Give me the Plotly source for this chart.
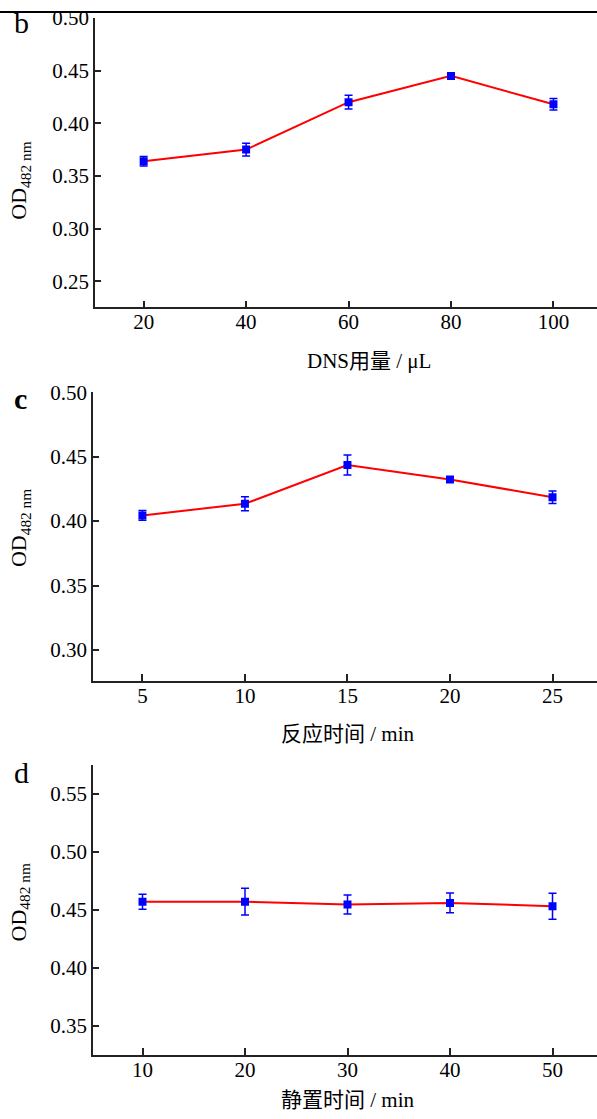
import plotly.graph_objects as go

W, H = 597, 1119

# Panel b: DNS amount
b_x = [20, 40, 60, 80, 100]
b_y = [0.364, 0.375, 0.420, 0.445, 0.418]
b_err = [0.0045, 0.0060, 0.0065, 0.0020, 0.0055]

# Panel c: reaction time
c_x = [5, 10, 15, 20, 25]
c_y = [0.4044, 0.4135, 0.4436, 0.4324, 0.4185]
c_err = [0.0038, 0.0055, 0.0078, 0.0015, 0.0048]

# Panel d: standing time
d_x = [10, 20, 30, 40, 50]
d_y = [0.4571, 0.4571, 0.4546, 0.4560, 0.4532]
d_err = [0.0065, 0.0115, 0.0082, 0.0085, 0.0112]

b_ticks_y = [0.25, 0.30, 0.35, 0.40, 0.45, 0.50]
c_ticks_y = [0.30, 0.35, 0.40, 0.45, 0.50]
d_ticks_y = [0.35, 0.40, 0.45, 0.50, 0.55]

xtitles = ["DNS用量 / μL", "反应时间 / min", "静置时间 / min"]
labels = ["b", "<b>c</b>", "d"]

FONT = "Liberation Serif, Times New Roman, Noto Sans CJK SC, serif"

# empirical vertical correction of the rendering
OFF, SC = 10.0, 0.991

def px(x):
    return x / W

def py(y):
    yy = (y - OFF) / SC
    return min(1.0, max(0.0, 1 - yy / H))

panels = [
    dict(x=b_x, y=b_y, e=b_err, xr=[10.5, 108.5], yr=[0.225, 0.50], yt=b_ticks_y,
         left=95, top=16, bottom=306, xt_y=360, yl_y=179, lab=(21, 21), xt_x=369),
    dict(x=c_x, y=c_y, e=c_err, xr=[2.59, 27.17], yr=[0.276, 0.50], yt=c_ticks_y,
         left=93, top=391, bottom=680, xt_y=733, yl_y=527, lab=(20, 397), xt_x=348),
    dict(x=d_x, y=d_y, e=d_err, xr=[5.17, 54.34], yr=[0.325, 0.575], yt=d_ticks_y,
         left=93, top=764, bottom=1055, xt_y=1100, yl_y=902, lab=(21, 772), xt_x=348),
]

fig = go.Figure()
annotations = []
for i, p in enumerate(panels):
    n = "" if i == 0 else str(i + 1)
    fig.add_trace(go.Scatter(
        x=p["x"], y=p["y"], mode="lines+markers",
        line=dict(color="red", width=2),
        marker=dict(symbol="square", size=8, color="blue"),
        error_y=dict(type="data", array=p["e"], color="blue", thickness=1.5, width=4),
        xaxis="x" + n, yaxis="y" + n, showlegend=False,
    ))
    axcommon = dict(showline=True, linecolor="#222", linewidth=1.5, ticks="inside",
                    tickcolor="#222", tickwidth=1.5, showgrid=False, zeroline=False,
                    tickfont=dict(family=FONT, size=21, color="black"))
    fig.layout["xaxis" + n] = dict(domain=[px(p["left"]), 1], range=p["xr"],
                                   anchor="y" + n, tickvals=p["x"], ticklen=7,
                                   ticklabelstandoff=-5, **axcommon)
    fig.layout["yaxis" + n] = dict(domain=[py(p["bottom"]), py(p["top"])], range=p["yr"],
                                   anchor="x" + n, tickvals=p["yt"], tickformat=".2f",
                                   ticklen=6, **axcommon)
    annotations.append(dict(text=xtitles[i], x=px(p["xt_x"]), y=py(p["xt_y"]),
                            xref="paper", yref="paper", showarrow=False,
                            xanchor="center", yanchor="middle",
                            font=dict(family=FONT, size=21, color="black")))
    annotations.append(dict(text="OD<sub>482 nm</sub>", x=px(20), y=py(p["yl_y"]),
                            xref="paper", yref="paper", showarrow=False, textangle=-90,
                            xanchor="center", yanchor="middle",
                            font=dict(family=FONT, size=22, color="black")))
    annotations.append(dict(text=labels[i], x=px(p["lab"][0]), y=py(p["lab"][1]),
                            xref="paper", yref="paper", showarrow=False,
                            xanchor="center", yanchor="middle",
                            font=dict(family=FONT, size=30, color="black")))

fig.update_layout(
    width=W, height=H, margin=dict(l=0, r=0, t=0, b=0),
    paper_bgcolor="white", plot_bgcolor="white",
    annotations=annotations,
    shapes=[dict(type="line", xref="paper", yref="paper", x0=0, x1=1, y0=1, y1=1,
                 line=dict(color="black", width=2))],
)

fig.write_html("out.html", config={"displayModeBar": False},
               post_script="document.body.style.margin='0';document.body.style.padding='0';document.documentElement.style.overflow='hidden';")
